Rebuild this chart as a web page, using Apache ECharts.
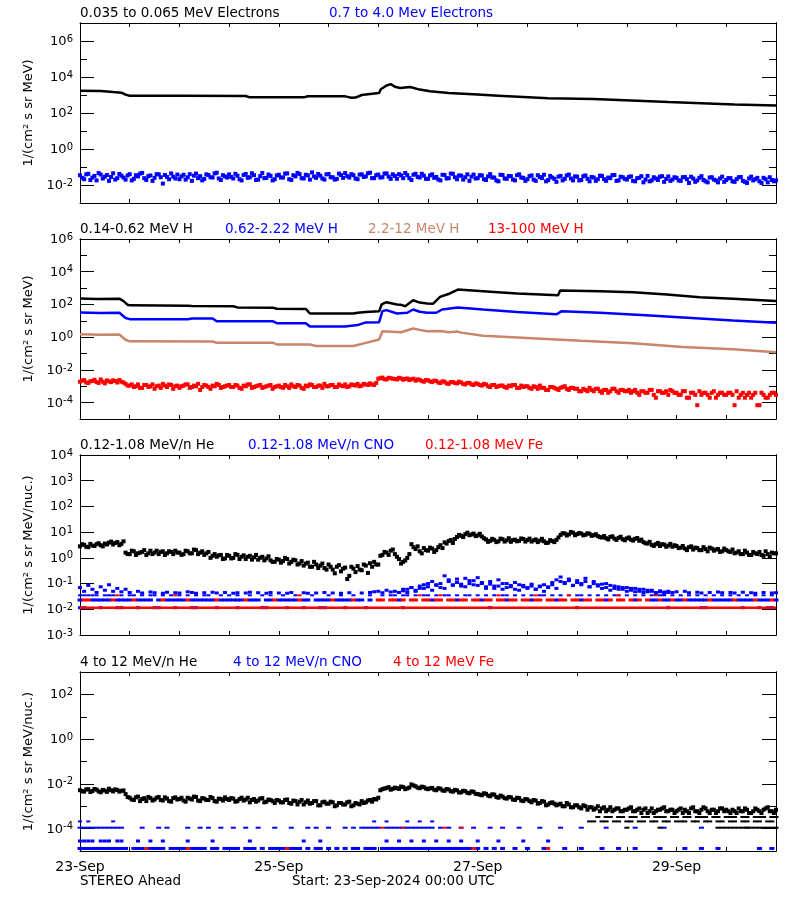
<!DOCTYPE html>
<html><head><meta charset="utf-8">
<script src="https://cdn.jsdelivr.net/npm/echarts@6/dist/echarts.min.js"></script>
<style>html,body{margin:0;padding:0;background:#fff}#c{width:800px;height:900px}</style>
</head><body><div id="c"></div>
<script>
// ================= DATA =================
// x = hours since 23-Sep-2024 00:00 UTC
const dateTickHours = [0, 48, 96, 144];
const dateTickLabels = ['23-Sep', '25-Sep', '27-Sep', '29-Sep'];
const footerLeft = 'STEREO Ahead';
const footerStart = 'Start: 23-Sep-2024 00:00 UTC';
const yNameA = '1/(cm\u00b2 s sr MeV)';
const yNameB = '1/(cm\u00b2 s sr MeV/nuc.)';
const panelTitles = [
  ['0.035 to 0.065 MeV Electrons', '0.7 to 4.0 Mev Electrons'],
  ['0.14-0.62 MeV H', '0.62-2.22 MeV H', '2.2-12 MeV H', '13-100 MeV H'],
  ['0.12-1.08 MeV/n He', '0.12-1.08 MeV/n CNO', '0.12-1.08 MeV Fe'],
  ['4 to 12 MeV/n He', '4 to 12 MeV/n CNO', '4 to 12 MeV Fe']
];
// y-axis tick values per panel
const p1Major = [1e-2, 1, 1e2, 1e4, 1e6], p1Minor = [1e-1, 1e1, 1e3, 1e5];
const p2Major = [1e-4, 1e-2, 1, 1e2, 1e4, 1e6], p2Minor = [1e-3, 1e-1, 1e1, 1e3, 1e5];
const p3Major = [1e-3, 1e-2, 1e-1, 1, 1e1, 1e2, 1e3, 1e4], p3Minor = [];
const p4Major = [1e-4, 1e-2, 1, 1e2], p4Minor = [1e-3, 1e-1, 1e1];

// ---- Panel 1: electrons ----
const eLowT = [0,5,8,10,11,12,25,40,41,54,55,64,65.5,66.5,68,70,72.2,72.6,74,75,76,77.3,79.7,82,84.5,89,96,101,113,124,133,142,150,158,168];
const eLowV = [1700,1650,1450,1350,1050,910,900,880,740,740,850,840,700,720,1000,1150,1300,2100,3400,4000,2900,2450,2800,2000,1600,1290,1050,910,650,600,500,410,350,300,260];
const eHighA = [ // hourly, h = 0..168
0.035,0.021,0.042,0.026,0.018,0.038,0.029,0.017,0.045,0.024,0.033,0.02,
0.04,0.022,0.03,0.047,0.019,0.034,0.025,0.039,0.012,0.028,0.044,0.023,
0.021,0.037,0.027,0.017,0.043,0.031,0.022,0.036,0.026,0.048,0.019,0.03,
0.039,0.023,0.033,0.018,0.041,0.027,0.035,0.02,0.046,0.025,0.032,0.021,
0.037,0.026,0.044,0.019,0.03,0.04,0.023,0.034,0.05,0.025,0.033,0.02,
0.041,0.027,0.022,0.036,0.046,0.026,0.035,0.021,0.039,0.03,0.048,0.024,
0.038,0.027,0.044,0.022,0.032,0.04,0.024,0.035,0.019,0.042,0.026,0.033,
0.022,0.039,0.028,0.018,0.036,0.024,0.042,0.021,0.033,0.027,0.017,0.038,
0.024,0.034,0.019,0.04,0.026,0.016,0.036,0.022,0.031,0.018,0.039,0.025,
0.021,0.034,0.017,0.028,0.037,0.019,0.026,0.015,0.032,0.022,0.038,0.018,
0.029,0.019,0.034,0.016,0.026,0.021,0.032,0.017,0.024,0.036,0.018,0.027,
0.02,0.03,0.016,0.025,0.014,0.032,0.018,0.023,0.029,0.015,0.03,0.02,
0.025,0.017,0.028,0.013,0.023,0.018,0.031,0.016,0.026,0.02,0.014,0.029,
0.019,0.024,0.015,0.027,0.017,0.013,0.029,0.021,0.016,0.025,0.014,0.019,
0.018];
const eHighB = [ // half-hours, h = 0.5..167.5
0.025,0.039,0.019,0.032,0.046,0.023,0.036,0.028,0.02,0.041,0.026,0.034,
0.018,0.035,0.043,0.024,0.031,0.017,0.04,0.027,0.036,0.021,0.029,0.038,
0.03,0.02,0.04,0.033,0.024,0.018,0.039,0.027,0.044,0.023,0.035,0.026,
0.028,0.042,0.021,0.036,0.025,0.045,0.019,0.031,0.024,0.038,0.018,0.034,
0.026,0.043,0.021,0.035,0.047,0.024,0.037,0.02,0.03,0.041,0.023,0.039,
0.027,0.02,0.043,0.025,0.031,0.04,0.023,0.038,0.028,0.045,0.024,0.035,
0.026,0.043,0.029,0.039,0.022,0.034,0.046,0.024,0.037,0.028,0.042,0.022,
0.034,0.025,0.02,0.037,0.023,0.043,0.027,0.034,0.02,0.039,0.029,0.023,
0.035,0.021,0.03,0.026,0.018,0.037,0.023,0.032,0.02,0.035,0.026,0.017,
0.031,0.02,0.035,0.024,0.016,0.032,0.022,0.029,0.018,0.034,0.023,0.03,
0.018,0.031,0.022,0.028,0.017,0.033,0.021,0.026,0.035,0.017,0.029,0.022,
0.028,0.017,0.024,0.031,0.02,0.016,0.027,0.019,0.031,0.022,0.017,0.027,
0.018,0.027,0.021,0.029,0.015,0.025,0.019,0.014,0.027,0.018,0.023,0.015,
0.024,0.016,0.021,0.028,0.015,0.023,0.018,0.025,0.013,0.021,0.027,0.016];

// ---- Panel 2: protons ----
const h1T = [0,4,9.5,10.5,11.5,12,26,27,37,38,46.5,47.5,54.5,55.5,66,67,69,72.2,72.8,74,76.5,77.5,78.5,80.4,82,83.8,85.2,86.9,89.3,91.2,97.3,105.5,115.4,115.9,125.5,133.5,141.7,149.6,157.6,168];
const h1V = [230,215,225,160,95,88,84,80,78,66,64,55,53,28,28,31,35,38,100,138,100,95,78,180,130,115,110,290,470,810,650,470,370,710,650,560,400,275,220,165];
const h2T = [0,5,9.5,11,12,26,27,32,33,46.5,47.5,54.5,55.5,64,67,69,72.2,73,74,76.5,79,80.4,82,83.8,86,87.4,91.2,97.3,105.5,115,116.3,125.5,137.6,149.6,157.6,168];
const h2V = [32,30,31,15,12.6,12.6,13.8,13.8,9.5,9.5,7.2,7.2,4.5,4.5,5.5,8,8.3,39,45,28,31,49,36,31,31,49,65,49,35,25,39,31,21,14,10.5,7.6];
const h3T = [0,5,9.5,11,12,32,33,46.5,47.5,55.5,57,66,69,72.2,73,76.5,77.5,80.4,82,83.8,87,89,91,92,97.3,109,121,133.5,145.5,157.6,168];
const h3V = [1.5,1.4,1.45,0.7,0.56,0.55,0.46,0.46,0.36,0.36,0.29,0.29,0.45,0.72,2.3,2.1,2.0,3.4,2.8,2.3,2.4,2.0,2.2,1.9,1.23,0.87,0.6,0.42,0.25,0.18,0.12];
const h4A = [ // hourly
0.0019,0.0024,0.0016,0.0021,0.0018,0.0026,0.0015,0.002,0.0023,0.0017,0.0019,0.0014,
0.0011,0.0009,0.0013,0.0008,0.0012,0.001,0.0007,0.0011,0.0014,0.0009,0.0012,0.001,
0.0008,0.0011,0.0013,0.0009,0.001,0.0006,0.0012,0.0009,0.0011,0.0014,0.0008,0.001,
0.0012,0.0009,0.0011,0.0007,0.001,0.0013,0.0009,0.0011,0.0008,0.001,0.0012,0.0009,
0.0011,0.0008,0.001,0.0013,0.0009,0.0011,0.0007,0.001,0.0012,0.0009,0.0011,0.0014,
0.001,0.0012,0.0009,0.0011,0.0013,0.001,0.0012,0.0014,0.0011,0.0013,0.0015,0.0012,
0.0029,0.0034,0.0026,0.0031,0.0028,0.0033,0.0025,0.003,0.0027,0.0022,0.0025,0.0019,
0.0023,0.0018,0.0021,0.0016,0.0019,0.0014,0.0018,0.0015,0.0017,0.0013,0.0016,0.0012,
0.0014,0.0011,0.0013,0.0009,0.0012,0.001,0.0011,0.0008,0.001,0.0012,0.0008,0.0009,
0.001,0.0007,0.0009,0.0011,0.0008,0.0006,0.0009,0.0007,0.0008,0.001,0.0006,0.0008,
0.0007,0.0005,0.0006,0.0008,0.0005,0.0007,0.0004,0.0006,0.0005,0.0007,0.0004,0.0006,
0.0005,0.0004,0.0006,0.0003,0.0005,0.0004,0.0006,0.0002,0.0005,0.0004,0.0003,0.0005,
0.0004,0.0003,0.0005,0.0002,0.0004,0.00007,0.0003,0.0004,0.0002,0.0005,0.0003,0.0004,
0.0003,0.0004,0.00007,0.0002,0.0004,0.0003,0.0002,0.0004,0.00007,0.0003,0.0002,0.0004,
0.0003];
const h4B = [ // half-hours
0.0022,0.0017,0.002,0.0025,0.0016,0.0019,0.0023,0.0018,0.0021,0.0024,0.0017,0.0011,
0.0013,0.001,0.0008,0.0012,0.0009,0.0013,0.001,0.0008,0.0011,0.0013,0.0007,0.0011,
0.001,0.0013,0.0008,0.0011,0.0014,0.0009,0.0011,0.0007,0.001,0.0012,0.0009,0.0011,
0.0009,0.0012,0.0008,0.0011,0.0013,0.0008,0.001,0.0012,0.0009,0.0011,0.0007,0.001,
0.0009,0.0012,0.0008,0.001,0.0012,0.0008,0.0011,0.0013,0.0009,0.0011,0.0008,0.001,
0.0012,0.0009,0.0013,0.001,0.0009,0.0013,0.0011,0.001,0.0014,0.0012,0.0013,0.0016,
0.0031,0.0027,0.0033,0.0029,0.0026,0.003,0.0028,0.0024,0.0029,0.0026,0.0021,0.0024,
0.002,0.0022,0.0017,0.002,0.0015,0.0018,0.0016,0.0019,0.0014,0.0016,0.0013,0.0015,
0.0012,0.0014,0.001,0.0012,0.0009,0.0011,0.0009,0.0011,0.0012,0.0008,0.0011,0.001,
0.0008,0.001,0.0007,0.0008,0.0006,0.0009,0.0008,0.0006,0.0009,0.0007,0.0008,0.0007,
0.0005,0.0007,0.0005,0.0006,0.0007,0.0005,0.0006,0.0004,0.0007,0.0005,0.0006,0.0005,
0.0006,0.0005,0.0004,0.0005,0.0004,0.0006,0.0003,0.0005,0.0004,0.0005,0.0006,0.0004,
0.0003,0.0005,0.0002,0.0004,0.0003,0.0005,0.0004,0.0003,0.0004,0.0002,0.0004,0.0003,
0.0004,0.0003,0.0005,0.0003,0.0002,0.0004,0.0003,0.00007,0.0004,0.0002,0.0003,0.0004];

// ---- Panel 3: 0.12-1.08 MeV/n heavy ions ----
const he3A = [ // hourly
2.8,3.2,2.6,3.0,3.4,3.1,3.6,3.9,3.3,4.1,3.5,1.6,
1.4,1.8,1.5,1.7,1.3,1.9,1.6,1.4,1.8,1.5,1.7,1.9,
1.6,1.4,1.8,1.5,2.0,1.6,1.3,1.7,1.2,1.1,1.3,0.95,
1.2,1.0,1.3,1.1,0.9,1.2,1.05,0.85,1.1,0.95,0.8,0.7,
0.85,0.75,0.9,0.7,0.8,0.6,0.5,0.65,0.45,0.55,0.5,0.4,
0.55,0.35,0.45,0.3,0.42,0.2,0.38,0.48,0.33,0.5,0.62,0.7,
0.55,1.3,1.6,1.9,1.4,0.9,0.7,1.0,3.4,2.2,1.8,2.4,
1.9,2.3,2.0,3.1,4.0,4.5,3.8,6.5,7.2,8.3,7.6,8.8,
7.5,6.8,5.2,4.6,5.0,4.4,5.3,4.8,4.2,5.1,4.6,5.4,
4.9,4.3,5.2,4.7,4.4,3.9,4.5,5.0,7.8,8.9,8.2,9.5,
8.4,8.8,7.9,8.6,7.6,7.0,6.2,5.8,6.5,5.6,6.0,5.3,
5.7,5.1,5.5,4.6,4.1,3.6,3.2,3.4,2.9,3.3,3.0,2.7,
2.9,2.5,2.3,2.6,2.1,2.4,2.0,2.2,2.5,1.9,2.2,1.8,
2.0,1.7,1.5,1.8,1.4,1.6,1.3,1.5,1.7,1.2,1.4,1.6,
1.5];
const he3B = [ // half-hours
3.4,2.7,3.5,2.9,3.7,2.8,3.3,4.3,3.8,3.1,4.4,1.4,
1.9,1.3,1.6,2.0,1.5,1.4,1.9,1.7,1.3,1.8,1.4,1.6,
1.3,1.9,1.5,2.1,1.4,1.8,1.5,1.0,1.4,1.25,0.9,1.3,
0.95,1.4,0.9,1.25,1.1,0.85,1.3,1.0,0.8,1.15,0.7,0.9,
0.65,1.0,0.6,0.85,0.55,0.75,0.6,0.45,0.7,0.4,0.6,0.35,
0.45,0.25,0.52,0.38,0.15,0.45,0.28,0.35,0.55,0.26,0.45,0.55,
1.2,1.7,1.3,2.1,1.1,0.6,0.8,1.4,2.6,2.8,1.5,2.0,
2.5,1.7,2.6,2.4,3.6,5.0,5.4,7.8,6.4,9.5,8.1,7.0,
8.6,5.8,4.2,5.5,4.1,5.6,4.3,5.8,4.9,4.4,5.7,4.3,
5.6,4.8,4.1,5.5,3.8,4.9,4.1,6.2,9.1,7.4,10.2,7.6,
9.3,7.5,9.1,7.2,8.3,6.4,7.1,5.2,6.9,5.0,6.6,4.8,
6.2,4.7,5.9,5.1,3.7,4.2,2.9,3.8,3.4,2.7,3.5,3.1,
2.4,2.9,2.0,2.8,2.5,2.0,2.6,1.8,2.3,2.1,1.7,2.3,
1.8,2.1,1.6,1.4,1.9,1.3,1.7,1.4,1.3,1.8,1.1,1.5];
const cno3 = [ // hourly, '-' = no count
0.07,0.05,0.085,0.06,0.045,0.075,0.055,0.09,0.05,0.065,0.048,0.06,
0.045,'-',0.05,0.043,'-',0.047,0.044,'-',0.042,0.046,'-',0.044,
0.043,'-',0.048,0.045,0.042,'-',0.044,'-',0.046,0.043,'-',0.045,
'-',0.042,0.044,'-',0.043,0.046,'-',0.044,'-',0.042,0.045,'-',
0.043,'-',0.042,0.045,'-','-',0.044,0.042,'-',0.043,'-',0.045,
'-',0.043,'-',0.042,'-',0.044,'-','-',0.043,'-',0.045,0.048,
0.05,0.044,0.055,0.047,0.05,0.045,0.052,0.06,0.07,0.055,0.065,0.09,
0.075,0.12,0.085,0.1,0.065,0.14,0.09,0.11,0.08,0.16,0.1,0.13,
0.085,0.11,0.075,0.095,0.065,0.08,0.1,0.07,0.085,0.06,0.09,0.075,
0.065,0.08,0.06,0.075,0.09,0.07,0.11,0.14,0.12,0.1,0.13,0.085,
0.11,0.09,0.12,0.075,0.1,0.08,0.095,0.07,0.085,0.065,0.075,0.06,
0.07,0.055,0.065,0.05,0.06,0.048,0.055,0.045,0.052,0.047,0.05,0.045,
0.048,'-',0.05,0.044,'-',0.046,0.043,'-',0.045,'-',0.047,0.044,
'-',0.045,0.043,'-',0.046,'-',0.044,0.042,'-',0.045,'-',0.043,
0.044];
const cno3bStart = 78; // hourly from h=78
const cno3b = [
0.06,0.045,0.07,0.05,0.08,0.065,0.1,0.055,0.09,0.07,
0.2,0.12,0.085,0.15,0.095,0.075,0.13,0.09,0.17,0.1,
0.065,0.12,0.08,0.14,0.06,0.1,0.075,0.11,0.055,0.085,
0.07,0.095,0.06,0.08,0.05,0.075,0.09,0.065,0.18,0.11,
0.15,0.085,0.13,0.1,0.16,0.075,0.12,0.09,0.065,0.1,
0.055,0.08,0.06,0.07,0.05,0.065,0.048,0.06,0.045,0.055,
0.05,0.042,0.048,0.04,0.045];
const p3Levels = [0.0115, 0.023, 0.035]; // 1, 2, 3 count levels
const fe3L1T = [0, 168];
const cno3L1Hours = [0,1,5,9,10,14,18,19,23,27,28,33,38,44,45,50,54,58,59,64,69,78,99,120,142,150,151,160,164,166,167];
const fe3L2Hours = [1,2,8,13,20,26,33,40,47,53,61,66,72,73,75,76,78,80,81,83,84,86,87,89,90,92,93,95,96,98,99,101,102,104,105,107,108,110,111,113,114,116,117,119,120,122,123,125,126,128,130,131,133,135,137,140,143,146,152,158,163,167];
const cno3L2Hours = [0,3,4,5,6,7,9,10,11,12,14,15,16,17,19,21,22,23,24,25,27,28,29,30,31,32,34,35,36,37,38,39,41,42,43,45,46,48,49,50,51,52,54,55,57,58,59,60,62,63,64,65,67,68,70,77,85,91,97,103,109,115,121,127,134,138,139,141,142,144,145,147,148,149,150,151,153,154,155,156,157,159,160,161,162,164,165,166,168];
const cno3L3Hours = [0,1,2,3,4,6,7,8,10,12,13,15,17,18,20,22,24,26,28,30,31,34,36,38,41,44,46,49,52,56,60,63,66,70,73,75,76,78,79,81,83,84,86,88,89,91,93,94,96,98,100,102,103,105,107,109,111,112,114,116,118,120,121,123,125,127,129,130,132,134,136,138,140,141,143,145,147,149,151,153,155,157,159,161,163,165,167];
const fe3L3Hours = [9,23,53,82,87,101,110,118,130,139];

// ---- Panel 4: 4-12 MeV/n heavy ions ----
const he4A = [ // hourly
0.0052,0.0045,0.0058,0.0048,0.0055,0.0042,0.005,0.0061,0.0046,0.0053,0.0049,0.0035,
0.0024,0.0019,0.0027,0.0021,0.0017,0.0023,0.002,0.0026,0.0018,0.0022,0.0016,0.0025,
0.0021,0.0018,0.0024,0.002,0.0026,0.0017,0.0022,0.0019,0.0023,0.0016,0.0021,0.0025,
0.0019,0.0022,0.0017,0.0024,0.002,0.0015,0.0021,0.0018,0.0023,0.0016,0.0019,0.0014,
0.0018,0.0015,0.002,0.0013,0.0017,0.0016,0.0012,0.0018,0.0014,0.0017,0.0011,0.0016,
0.0013,0.0015,0.0011,0.0014,0.0012,0.0016,0.0011,0.0013,0.0017,0.0015,0.0019,0.0021,
0.0024,0.0058,0.0065,0.0055,0.0068,0.006,0.0072,0.0063,0.0095,0.0078,0.0064,0.0071,
0.0058,0.0066,0.0052,0.0061,0.0049,0.0056,0.0045,0.0051,0.0042,0.0047,0.0038,0.0044,
0.0035,0.0031,0.0036,0.0028,0.0033,0.0024,0.0027,0.0022,0.0025,0.0019,0.0023,0.0017,
0.002,0.0015,0.0018,0.0014,0.0016,0.0012,0.0015,0.0011,0.0013,0.001,0.0012,0.0009,
0.0011,0.0008,0.001,0.0009,0.0007,0.001,0.0008,0.0006,0.0009,0.0007,0.0008,0.0006,
0.0007,0.0009,0.0006,0.0008,0.0007,0.0005,0.0008,0.0006,0.0007,0.0009,0.0006,0.0007,
0.0006,0.0008,0.0007,0.0005,0.0009,0.0006,0.0007,0.0008,0.0005,0.0007,0.0006,0.0008,
0.0007,0.0005,0.0006,0.0008,0.0006,0.0007,0.0005,0.0008,0.0006,0.0007,0.0009,0.0006,
0.0007];
const he4B = [ // half-hours
0.0047,0.0056,0.0043,0.0059,0.0046,0.0054,0.0044,0.0052,0.0057,0.0045,0.0051,0.0026,
0.002,0.0025,0.0017,0.0023,0.0026,0.0018,0.0024,0.0019,0.0025,0.0017,0.0023,0.002,
0.0024,0.0016,0.0022,0.0027,0.0018,0.0023,0.0019,0.0026,0.0017,0.0022,0.0018,0.0021,
0.0023,0.0016,0.0021,0.0018,0.0024,0.0019,0.0016,0.0022,0.0015,0.002,0.0017,0.0019,
0.0015,0.0019,0.0014,0.0018,0.0012,0.0019,0.0015,0.0013,0.0017,0.0011,0.0015,0.0013,
0.0016,0.001,0.0014,0.0012,0.0015,0.001,0.0014,0.0012,0.0014,0.0018,0.0016,0.002,
0.0052,0.0062,0.0071,0.006,0.0064,0.0076,0.0058,0.0069,0.0085,0.0068,0.0075,0.0062,
0.0063,0.0055,0.0064,0.0051,0.0059,0.0047,0.0054,0.0041,0.0049,0.004,0.0046,0.0036,
0.0033,0.0038,0.003,0.0034,0.0026,0.003,0.0023,0.0026,0.002,0.0024,0.0018,0.0021,
0.0017,0.0019,0.0013,0.0017,0.0011,0.0014,0.0013,0.0012,0.001,0.0014,0.0009,0.0011,
0.0009,0.0011,0.0007,0.0009,0.0008,0.0006,0.0009,0.0007,0.0006,0.0008,0.0006,0.0007,
0.0008,0.0006,0.0007,0.0005,0.0008,0.0006,0.0005,0.0007,0.0008,0.0006,0.0007,0.0005,
0.0007,0.0005,0.0006,0.0008,0.0006,0.0005,0.0009,0.0006,0.0007,0.0005,0.0008,0.0006,
0.0006,0.0007,0.0005,0.0006,0.0008,0.0005,0.0006,0.0007,0.0005,0.0008,0.0006,0.0005];
const p4Levels = [1.3e-5, 2.8e-5, 1.1e-4, 2.1e-4, 3.3e-4];
const he4L5Hours = [125,127,128,130,131,133,134,136,137,139,140,141,143,144,146,147,149,150,151,153,154,156,157,158,160,161,163,164,165,167,168];
const he4L4Hours = [123,124,126,127,129,130,132,133,135,136,138,139,141,142,144,145,146,148,149,151,152,154,155,157,158,160,161,163,164,166,167];
const he4L3Hours = [132,140,154,155,156,157,158,159,160,161,162,163,164,165,166,167,168];
const cno4L1Hours = [0,1,2,3,4,5,6,7,8,9,10,11,13,14,15,17,18,19,20,22,23,24,25,27,28,29,30,32,33,35,36,37,38,40,41,42,44,46,47,48,49,51,52,53,55,57,58,60,62,64,66,67,69,70,71,73,74,75,76,77,78,79,80,81,82,83,84,85,86,87,88,89,90,91,92,93,94,96,98,100,102,105,108,112,117,121,126,130,134,140,146,150,154,164,167];
const fe4L1Hours = [16,26,50,95,113];
const cno4L2Hours = [0,1,2,3,5,6,7,9,10,14,17,20,26,32,41,54,58,74,77,80,83,86,89,92,96,101,107,113];
const cno4L3Hours = [0,1,2,3,4,5,6,7,8,9,10,15,19,21,26,29,31,34,37,40,43,47,51,55,57,60,64,66,68,69,70,71,72,74,75,76,77,78,79,80,81,82,83,84,85,87,89,92,95,99,102,106,111,116,121,127,134,141,150,161];
const fe4L3Hours = [73,78,88,92];
const cno4L4Hours = [0,2,8,71,74,79,82,85];

// ================= CHART =================
const FONT = 'DejaVu Sans';
const BLACK = '#000000', BLUE = '#0000ff', BROWN = '#c8866a', RED = '#ff0000';
const panels = [
  {top: 23,  height: 180, min: 1e-3, max: 1e7, major: p1Major, minor: p1Minor, name: yNameA},
  {top: 239, height: 180, min: 1e-5, max: 1e6, major: p2Major, minor: p2Minor, name: yNameA},
  {top: 455, height: 180, min: 1e-3, max: 1e4, major: p3Major, minor: p3Minor, name: yNameB},
  {top: 672, height: 179, min: 1e-5, max: 1e3, major: p4Major, minor: p4Minor, name: yNameB}
];
const PL = 80, PW = 696;
const DOT = [4, 4];

const hourly = (arr, start) => arr.map((v, i) => [start + i, v]);
const pairs = (t, v) => t.map((x, i) => [x, v[i]]);
const atLevel = (hours, level) => hours.map(h => [h, level]);

function expFmt(v) {
  const e = Math.round(Math.log10(v));
  return '{b|10}{s|' + e + '}';
}

const grid = [], xAxis = [], yAxis = [];
panels.forEach((p, gi) => {
  grid.push({left: PL, width: PW, top: p.top, height: p.height, containLabel: false});
  const xBase = {
    type: 'value', gridIndex: gi, min: 0, max: 168, interval: 12,
    axisLine: {show: true, onZero: false, lineStyle: {color: BLACK, width: 1}},
    axisTick: {show: true, inside: true, length: 4, lineStyle: {color: BLACK}},
    splitLine: {show: false}
  };
  xAxis.push(Object.assign({}, xBase, {
    position: 'bottom',
    axisLabel: gi === 3 ? {
      show: true, customValues: dateTickHours, margin: 9, color: BLACK,
      fontFamily: FONT, fontSize: 14, showMinLabel: true,
      formatter: v => dateTickLabels[dateTickHours.indexOf(v)]
    } : {show: false}
  }));
  xAxis.push(Object.assign({}, xBase, {position: 'top', axisLabel: {show: false}}));
  const mk = (pos, vals, len, labels) => ({
    type: 'log', logBase: 10, gridIndex: gi, position: pos, min: p.min, max: p.max,
    axisLine: {show: true, onZero: false, lineStyle: {color: BLACK, width: 1}},
    axisTick: {show: vals.length > 0, inside: true, length: len, customValues: vals, lineStyle: {color: BLACK}},
    axisLabel: labels ? {
      show: true, customValues: vals, margin: 7, formatter: expFmt, showMinLabel: true, showMaxLabel: true,
      rich: {
        b: {fontFamily: FONT, fontSize: 13, color: BLACK, lineHeight: 14, verticalAlign: 'bottom'},
        s: {fontFamily: FONT, fontSize: 10, color: BLACK, lineHeight: 10, verticalAlign: 'top', padding: [0, 0, 8, 0]}
      }
    } : {show: false},
    splitLine: {show: false}, minorTick: {show: false},
    name: labels ? p.name : '', nameLocation: 'middle', nameRotate: 90, nameGap: 34,
    nameTextStyle: {fontFamily: FONT, fontSize: 13, color: BLACK}
  });
  yAxis.push(mk('left', p.major, 14, true));
  yAxis.push(mk('left', p.minor, 7, false));
  yAxis.push(mk('right', p.major, 14, false));
  yAxis.push(mk('right', p.minor, 7, false));
});

function scat(gi, data, color, size) {
  return {type: 'scatter', xAxisIndex: gi * 2, yAxisIndex: gi * 4, data: data, symbol: 'rect',
    symbolSize: size || [4, 3], itemStyle: {color: color, opacity: 1}, silent: true, animation: false};
}
function line(gi, data, color, w) {
  return {type: 'line', xAxisIndex: gi * 2, yAxisIndex: gi * 4, data: data, showSymbol: false, symbol: 'none',
    lineStyle: {color: color, width: w || 2.5}, silent: true, animation: false};
}

const series = [
  // panel 1
  line(0, pairs(eLowT, eLowV), BLACK, 2.5),
  scat(0, hourly(eHighA, 0), BLUE, DOT),
  scat(0, hourly(eHighB, 0.5), BLUE, DOT),
  // panel 2
  line(1, pairs(h1T, h1V), BLACK, 2.5),
  line(1, pairs(h2T, h2V), BLUE, 2.5),
  line(1, pairs(h3T, h3V), BROWN, 2.5),
  scat(1, hourly(h4A, 0), RED, DOT),
  scat(1, hourly(h4B, 0.5), RED, DOT),
  // panel 3
  line(2, atLevel(fe3L1T, p3Levels[0]), RED, 2.5),
  scat(2, atLevel(cno3L1Hours, p3Levels[0]), BLUE, [4, 3]),
  scat(2, atLevel(cno3L2Hours, p3Levels[1]), BLUE, [5, 3]),
  scat(2, atLevel(fe3L2Hours, p3Levels[1]), RED, [5, 3]),
  scat(2, atLevel(cno3L3Hours, p3Levels[2]), BLUE, [4, 2]),
  scat(2, atLevel(fe3L3Hours, p3Levels[2]), RED, [4, 2]),
  scat(2, hourly(cno3, 0), BLUE, [4, 3]),
  scat(2, hourly(cno3b, cno3bStart), BLUE, [4, 3]),
  scat(2, hourly(he3A, 0), BLACK, DOT),
  scat(2, hourly(he3B, 0.5), BLACK, DOT),
  // panel 4
  scat(3, atLevel(cno4L1Hours, p4Levels[0]), BLUE, [5, 3]),
  scat(3, atLevel(fe4L1Hours, p4Levels[0]), RED, [4, 3]),
  scat(3, atLevel(cno4L2Hours, p4Levels[1]), BLUE, [4, 3]),
  scat(3, atLevel(cno4L3Hours, p4Levels[2]), BLUE, [5, 2]),
  scat(3, atLevel(fe4L3Hours, p4Levels[2]), RED, [4, 2]),
  scat(3, atLevel(cno4L4Hours, p4Levels[3]), BLUE, [4, 2]),
  scat(3, atLevel(he4L3Hours, p4Levels[2]), BLACK, [5, 2]),
  scat(3, atLevel(he4L4Hours, p4Levels[3]), BLACK, [5, 2]),
  scat(3, atLevel(he4L5Hours, p4Levels[4]), BLACK, [5, 2]),
  scat(3, hourly(he4A, 0), BLACK, DOT),
  scat(3, hourly(he4B, 0.5), BLACK, DOT)
];

// titles above panels (colored segments) and footer texts
const titleColors = [[BLACK, BLUE], [BLACK, BLUE, BROWN, RED], [BLACK, BLUE, RED], [BLACK, BLUE, RED]];
const titleX = [[80, 329], [80, 225, 368, 488], [80, 248, 425], [80, 233, 393]];
const titleY = [13, 229, 445, 662];
const TFONT = '13.5px "' + FONT + '"';
const graphic = [];
panelTitles.forEach((row, gi) => row.forEach((txt, k) => {
  graphic.push({type: 'text', x: titleX[gi][k], y: titleY[gi], silent: true,
    style: {text: txt, fill: titleColors[gi][k], font: TFONT, align: 'left', verticalAlign: 'middle'}});
}));
graphic.push({type: 'text', x: 80, y: 881, silent: true,
  style: {text: footerLeft, fill: BLACK, font: TFONT, align: 'left', verticalAlign: 'middle'}});
graphic.push({type: 'text', x: 292, y: 881, silent: true,
  style: {text: footerStart, fill: BLACK, font: TFONT, align: 'left', verticalAlign: 'middle'}});

const chart = echarts.init(document.getElementById('c'), null, {renderer: 'canvas'});
chart.setOption({
  backgroundColor: '#ffffff',
  animation: false,
  textStyle: {fontFamily: FONT},
  grid: grid, xAxis: xAxis, yAxis: yAxis, series: series, graphic: graphic
});
</script></body></html>
